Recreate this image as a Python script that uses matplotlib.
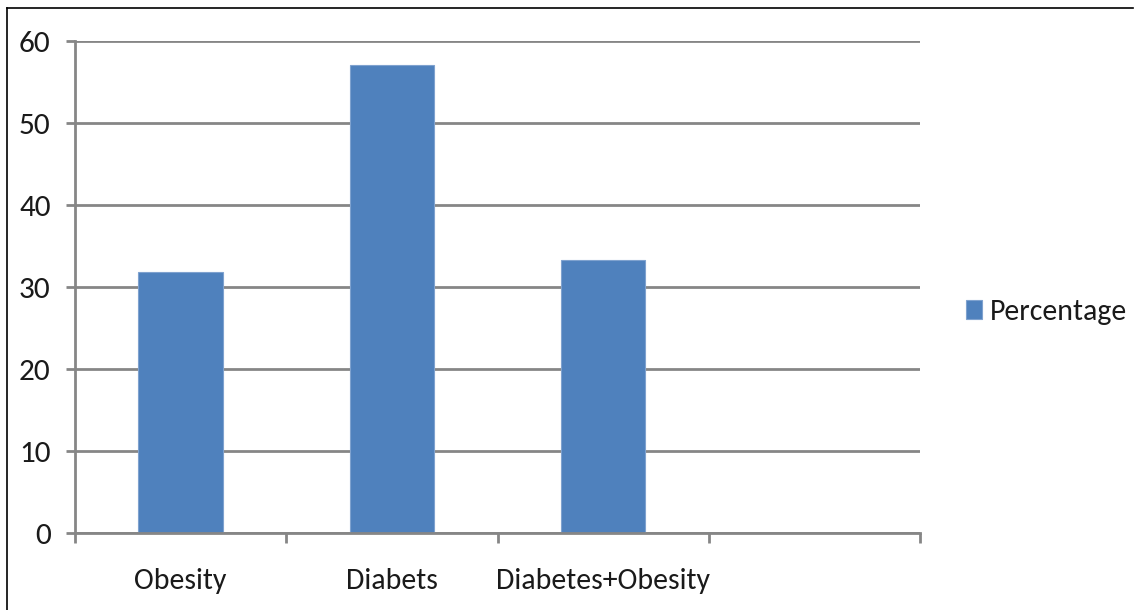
"""Percentage per group bar chart, old Excel look."""

import matplotlib

matplotlib.use("Agg")
import matplotlib.pyplot as plt
from matplotlib.lines import Line2D

categories = ["Obesity", "Diabets", "Diabetes+Obesity"]
percentage = [31.8, 57.1, 33.3]
n_slots = 4  # Excel left an empty fourth category slot
y_ticks = [0, 10, 20, 30, 40, 50, 60]

BAR_COLOR = "#4F81BD"
GRID_COLOR = "#868686"
TEXT_COLOR = "#1a1a1a"
W, H = 1136, 610

# Carlito is the metric twin of Calibri, which the original used
plt.rcParams["font.family"] = ["Carlito", "Roboto Condensed", "Open Sans Condensed", "DejaVu Sans"]

fig = plt.figure(figsize=(W / 100, H / 100), dpi=100)
ax = fig.add_axes([75 / W, 1 - 533 / H, (920 - 75) / W, (533 - 41) / H])

x = list(range(len(categories)))
ax.bar(x, percentage, width=0.4, color=BAR_COLOR, edgecolor="#7FA2CF",
       linewidth=0.8, label="Percentage", zorder=3)

ax.set_xlim(-0.5, n_slots - 0.5)
ax.set_ylim(0, 60)

# category boundaries get the tick marks, names sit in the middle
ax.set_xticks([i - 0.5 for i in range(n_slots + 1)])
ax.set_xticklabels([])
ax.set_xticks(x, minor=True)
ax.set_xticklabels(categories, minor=True, fontsize=21.5)
ax.tick_params(axis="x", which="major", length=7, width=2, color=GRID_COLOR)
ax.tick_params(axis="x", which="minor", length=0, pad=25, colors=TEXT_COLOR)

ax.set_yticks(y_ticks)
ax.tick_params(axis="y", length=6.5, width=2, color=GRID_COLOR, pad=11,
               labelsize=22.5, labelcolor=TEXT_COLOR)

ax.yaxis.grid(True, color=GRID_COLOR, linewidth=2, zorder=0)
ax.set_axisbelow(True)
for side in ("top", "right"):
    ax.spines[side].set_visible(False)
for side in ("left", "bottom"):
    ax.spines[side].set_color(GRID_COLOR)
    ax.spines[side].set_linewidth(2)
    ax.spines[side].set_zorder(4)

fig.legend(loc="center left", bbox_to_anchor=(966 / W, 1 - 312 / H),
           frameon=False, fontsize=21.5, handlelength=0.55, handleheight=0.65,
           handletextpad=0.25, borderpad=0, borderaxespad=0,
           labelcolor=TEXT_COLOR)

# outer frame of the pasted picture (top and left edges only)
fig.add_artist(Line2D([7 / W, 1133 / W], [1 - 8 / H, 1 - 8 / H],
                      transform=fig.transFigure, color="black", linewidth=1.2))
fig.add_artist(Line2D([7 / W, 7 / W], [0, 1 - 8 / H],
                      transform=fig.transFigure, color="black", linewidth=1.2))

fig.savefig("out.png", dpi=100)
